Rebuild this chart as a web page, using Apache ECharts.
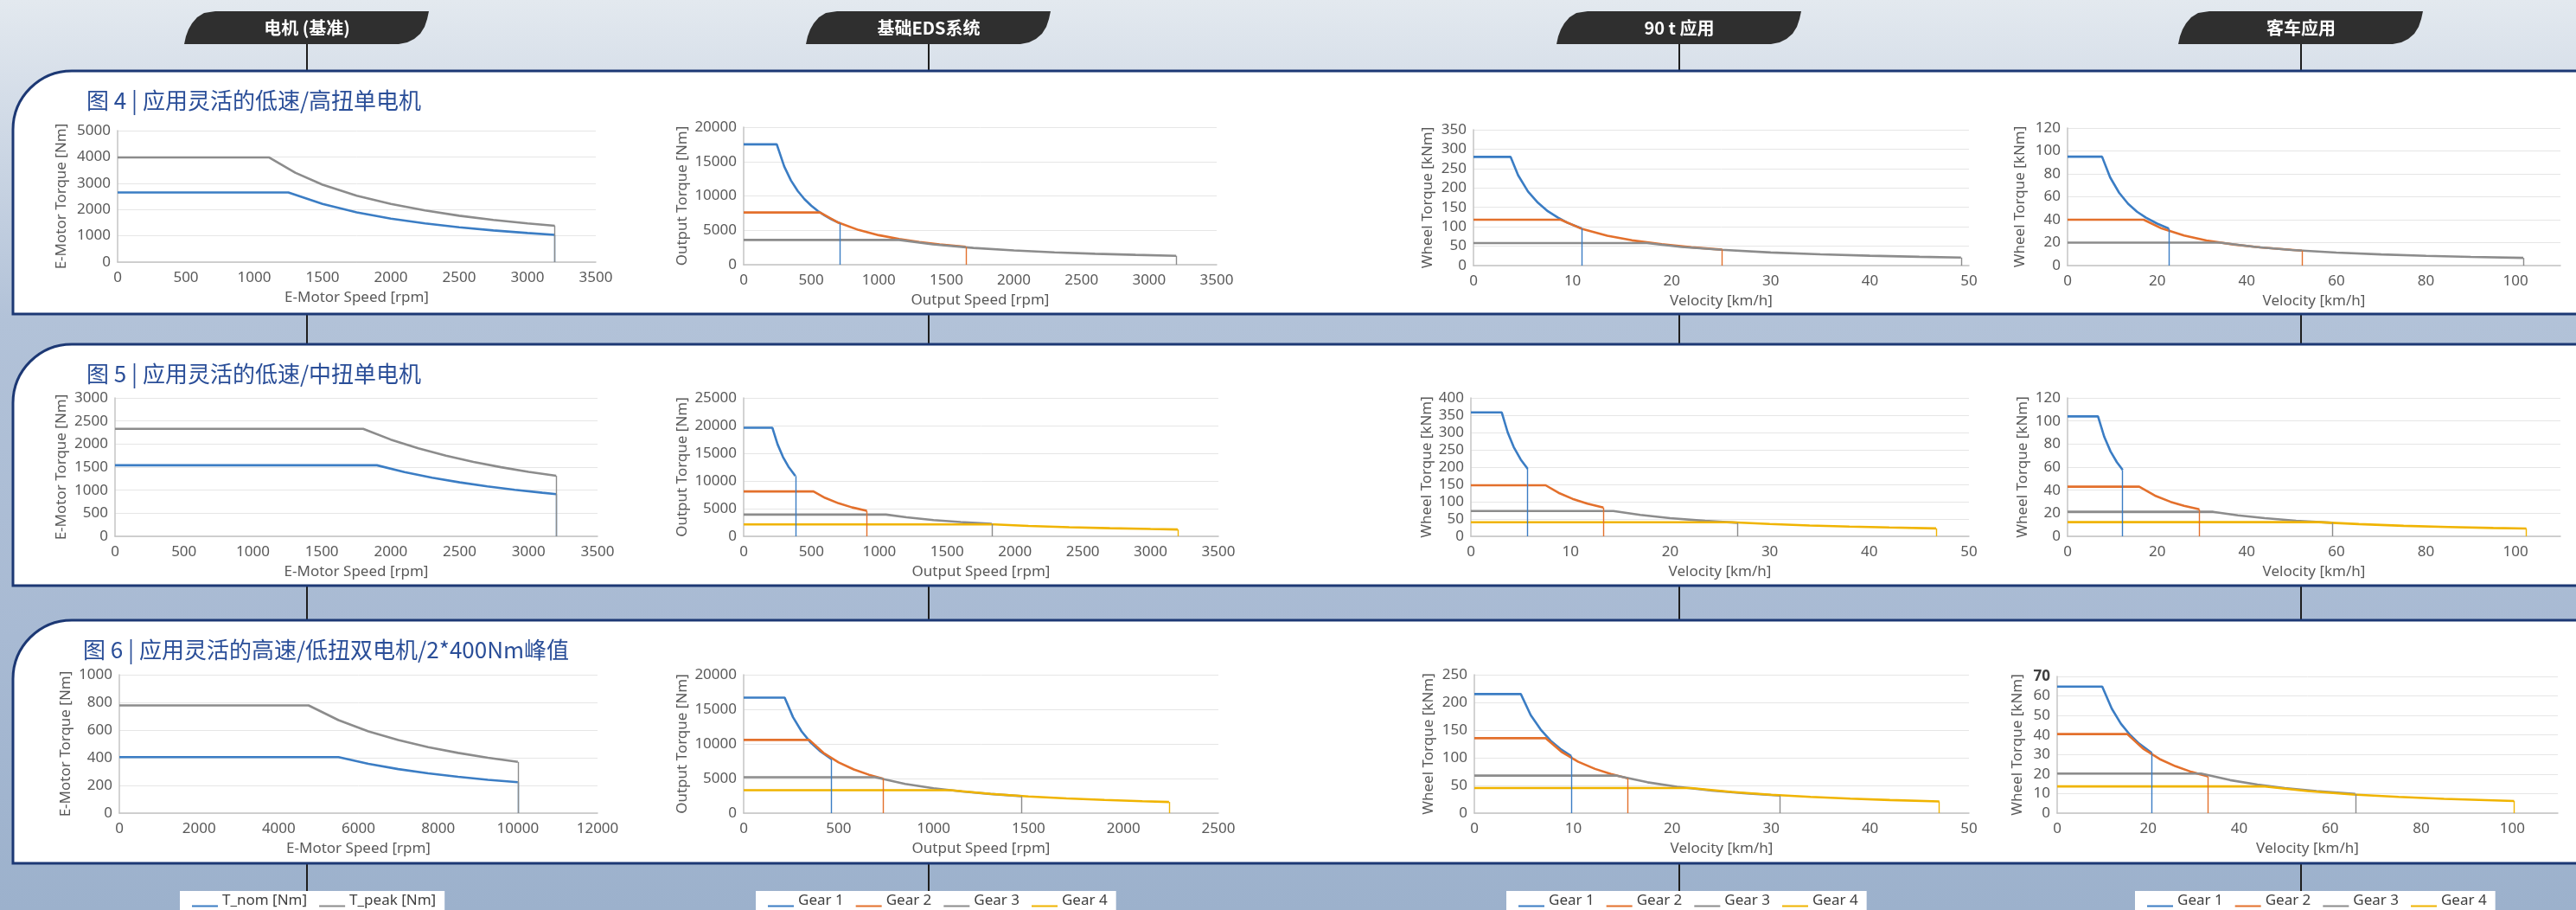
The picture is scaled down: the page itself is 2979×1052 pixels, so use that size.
<!DOCTYPE html>
<html>
<head>
<meta charset="utf-8">
<title>EDS torque curves</title>
<script src="https://cdn.jsdelivr.net/npm/echarts@6/dist/echarts.min.js"></script>
<style>
  html, body { margin: 0; padding: 0; background: #dfe6ee; }
  #main { width: 2979px; height: 1052px; }
</style>
</head>
<body>
<div id="main"></div>
<script>
// ---- data: [speed, torque] points ----
// row 1 (图 4)
var r1MotorNom  = [[0,2650],[1250,2650],[1500,2210],[1750,1890],[2000,1655],[2250,1470],[2500,1325],[2750,1205],[3000,1105],[3200,1035]];
var r1MotorPeak = [[0,3980],[1110,3980],[1300,3400],[1500,2945],[1750,2525],[2000,2210],[2250,1965],[2500,1765],[2750,1605],[3000,1470],[3200,1380]];
var r1OutG1 = [[0,17500],[245,17500],[300,14300],[350,12250],[400,10720],[450,9530],[500,8580],[550,7800],[600,7150],[650,6600],[712,6020]];
var r1OutG2 = [[0,7600],[565,7600],[700,6130],[850,5050],[1000,4290],[1150,3730],[1300,3300],[1450,2960],[1643,2610]];
var r1OutG3 = [[0,3600],[1150,3600],[1400,2960],[1700,2435],[2000,2070],[2300,1800],[2600,1590],[2900,1430],[3200,1295]];
var r1T90G1 = [[0,280],[3.75,280],[4.5,233],[5.5,191],[6.5,162],[7.5,140],[8.5,124],[9.5,110],[10.9,96]];
var r1T90G2 = [[0,118],[8.8,118],[11,94],[13.5,77],[16,65],[19,55],[22,47],[25.1,41]];
var r1T90G3 = [[0,58],[17.5,58],[21,48],[25,40.6],[30,33.8],[35,29],[40,25.4],[45,22.6],[49.2,20.6]];
var r1BusG1 = [[0,95],[7.7,95],[9.5,77],[11.5,63.6],[13.5,54],[15.5,47],[17.5,41.8],[20,36.6],[22.6,32.3]];
var r1BusG2 = [[0,40],[17,40],[21,32.4],[26,26.2],[31,21.9],[37,18.4],[43,15.8],[52.3,13]];
var r1BusG3 = [[0,20],[34,20],[42,16.2],[50,13.6],[60,11.3],[70,9.7],[80,8.5],[90,7.6],[101.7,6.7]];
// row 2 (图 5)
var r2MotorNom  = [[0,1540],[1900,1540],[2100,1393],[2300,1272],[2500,1170],[2700,1084],[2900,1009],[3100,944],[3200,914]];
var r2MotorPeak = [[0,2330],[1800,2330],[2000,2097],[2200,1906],[2400,1748],[2600,1613],[2800,1498],[3000,1398],[3200,1311]];
var r2OutG1 = [[0,19600],[212,19600],[250,16620],[290,14330],[330,12590],[381,10900]];
var r2OutG2 = [[0,8100],[515,8100],[600,6950],[700,5960],[800,5215],[908,4595]];
var r2OutG3 = [[0,3920],[1050,3920],[1200,3430],[1400,2940],[1600,2572],[1829,2250]];
var r2OutG4 = [[0,2140],[1850,2140],[2100,1885],[2400,1650],[2700,1467],[3000,1320],[3200,1237]];
var r2T90G1 = [[0,358],[3.1,358],[3.7,300],[4.3,258],[5,222],[5.7,195]];
var r2T90G2 = [[0,147.5],[7.5,147.5],[8.8,125.7],[10.2,108.4],[11.7,94.5],[13.3,83.2]];
var r2T90G3 = [[0,73.3],[14.3,73.3],[17,61.7],[20,52.4],[23.5,44.6],[26.8,39.1]];
var r2T90G4 = [[0,40.8],[26.2,40.8],[30,35.6],[34,31.4],[38,28.1],[42,25.5],[46.7,22.9]];
var r2BusG1 = [[0,104],[6.8,104],[8.2,86.2],[9.6,73.6],[11,64.3],[12.3,57.5]];
var r2BusG2 = [[0,43],[16,43],[19.5,35.3],[23,29.9],[26,26.5],[29.4,23.4]];
var r2BusG3 = [[0,21.25],[32.5,21.25],[38,18.2],[44,15.7],[51,13.5],[59.1,11.7]];
var r2BusG4 = [[0,12.25],[56,12.25],[65,10.6],[75,9.1],[85,8.1],[95,7.2],[102.4,6.7]];
// row 3 (图 6)
var r3MotorNom  = [[0,405],[5500,405],[6250,356],[7000,318],[7750,287],[8500,262],[9250,241],[10000,223]];
var r3MotorPeak = [[0,778],[4750,778],[5500,672],[6250,591],[7000,528],[7750,477],[8500,435],[9250,400],[10000,370]];
var r3OutG1 = [[0,16680],[216,16680],[260,13860],[305,11810],[350,10290],[400,9010],[463,7780]];
var r3OutG2 = [[0,10580],[346,10580],[420,8715],[500,7320],[580,6310],[660,5545],[735,4980]];
var r3OutG3 = [[0,5190],[692,5190],[850,4225],[1000,3590],[1150,3122],[1300,2762],[1462,2456]];
var r3OutG4 = [[0,3320],[1090,3320],[1300,2784],[1500,2413],[1700,2129],[1900,1905],[2100,1723],[2240,1615]];
var r3T90G1 = [[0,215],[4.7,215],[5.7,177],[6.7,151],[7.7,131],[8.7,116],[9.8,103]];
var r3T90G2 = [[0,135.4],[7.2,135.4],[8.8,110.8],[10.5,92.8],[12.2,79.9],[13.8,70.6],[15.5,62.9]];
var r3T90G3 = [[0,67.7],[14.4,67.7],[17.5,55.7],[20.5,47.6],[24,40.6],[27.5,35.5],[30.9,31.6]];
var r3T90G4 = [[0,45.3],[21.9,45.3],[26,38.2],[30,33.1],[34,29.2],[38,26.1],[42,23.6],[47,21.1]];
var r3BusG1 = [[0,64.8],[9.9,64.8],[12,53.5],[14,45.8],[16,40.1],[18,35.6],[20.8,30.8]];
var r3BusG2 = [[0,40.5],[15.4,40.5],[19,32.8],[22.5,27.7],[26,24],[29.5,21.1],[33.1,18.8]];
var r3BusG3 = [[0,20.3],[31.6,20.3],[38,16.9],[44,14.6],[50,12.8],[57,11.3],[65.5,9.8]];
var r3BusG4 = [[0,13.7],[45.2,13.7],[55,11.3],[65,9.5],[75,8.3],[85,7.3],[100.4,6.2]];

// ---- axes / labels ----
var xAxisMax  = [3500, 3500, 50, 110, 3500, 3500, 50, 110, 12000, 2500, 50, 110];
var xAxisStep = [500, 500, 10, 20, 500, 500, 10, 20, 2000, 500, 10, 20];
var yAxisMax  = [5000, 20000, 350, 120, 3000, 25000, 400, 120, 1000, 20000, 250, 70];
var yAxisStep = [1000, 5000, 50, 20, 500, 5000, 50, 20, 200, 5000, 50, 10];
var xNames = ['E-Motor Speed [rpm]', 'Output Speed [rpm]', 'Velocity [km/h]', 'Velocity [km/h]'];
var yNames = ['E-Motor Torque [Nm]', 'Output Torque [Nm]', 'Wheel Torque [kNm]', 'Wheel Torque [kNm]'];
var rowTitles = ['图 4 | 应用灵活的低速/高扭单电机', '图 5 | 应用灵活的低速/中扭单电机', '图 6 | 应用灵活的高速/低扭双电机/2*400Nm峰值'];
var tabTitles = ['电机 (基准)', '基础EDS系统', '90 t 应用', '客车应用'];
var motorNames = ['T_nom [Nm]', 'T_peak [Nm]'];
var gearNames = ['Gear 1', 'Gear 2', 'Gear 3', 'Gear 4'];

var chartSeries = [
  [r1MotorNom, r1MotorPeak], [r1OutG1, r1OutG2, r1OutG3], [r1T90G1, r1T90G2, r1T90G3], [r1BusG1, r1BusG2, r1BusG3],
  [r2MotorNom, r2MotorPeak], [r2OutG1, r2OutG2, r2OutG3, r2OutG4], [r2T90G1, r2T90G2, r2T90G3, r2T90G4], [r2BusG1, r2BusG2, r2BusG3, r2BusG4],
  [r3MotorNom, r3MotorPeak], [r3OutG1, r3OutG2, r3OutG3, r3OutG4], [r3T90G1, r3T90G2, r3T90G3, r3T90G4], [r3BusG1, r3BusG2, r3BusG3, r3BusG4]
];

// layout
var gridBoxes = [
  [136,151,553,152], [860,147,547,159], [1704,150,573,157], [2391,148,570,159],
  [133,460,558,160], [860,460,549,160], [1701,460,576,160], [2391,460,570,160],
  [138,780,553,160], [860,780,549,160], [1705,780,572,160], [2379,782,579,158]
];
var yNameGap = [56, 62, 44, 46, 53, 62, 42, 43, 53, 62, 44, 37];
var panelTops = [82, 398, 717];
var panelBottoms = [363, 677, 998];
var titleX = [100, 100, 96];
var tabCenters = [355, 1074, 1942, 2661];
var legendLefts = [208, 874, 1742, 2469];
// outline of a header tab, relative to its top-left corner
var tabOutline = [[0,38],[2,29],[5,21],[9,14],[15,7],[23,2],[36,0],[283,0],[281,9],[278,18],[273,26],[266,32],[258,36],[248,38]];
// legend key: a short line sitting low, like the source's underline keys
var legendIcon = 'path://M0,0L0.05,0L0.05,0.05Z M0,12L30,12L30,14L0,14Z';

var colorOf = {
  'T_nom [Nm]': '#3b7dc4', 'T_peak [Nm]': '#8c8c8c',
  'Gear 1': '#3b7dc4', 'Gear 2': '#e3702c', 'Gear 3': '#8c8c8c', 'Gear 4': '#f0b400'
};
var LATIN = '"Noto Sans", sans-serif';
var CJK = '"Noto Sans CJK SC", "Noto Sans", sans-serif';

// ---- decoration (background, panels, tabs) ----
var deco = [];
deco.push({
  type: 'rect', z: -20, shape: { x: 0, y: 0, width: 2979, height: 1052 },
  style: { fill: new echarts.graphic.LinearGradient(0, 0, 0, 1, [
    { offset: 0, color: '#e3e9ef' }, { offset: 0.08, color: '#d8e0ea' },
    { offset: 0.35, color: '#b2c2d8' }, { offset: 0.7, color: '#a8bad3' }, { offset: 1, color: '#9cb1cc' }
  ]) }
});
tabCenters.forEach(function (cx) {
  deco.push({ type: 'line', z: -19, shape: { x1: cx, y1: 50, x2: cx, y2: 1032 },
    style: { stroke: '#1e1e1e', lineWidth: 2 } });
});
panelTops.forEach(function (top, i) {
  deco.push({
    type: 'rect', z: -18,
    shape: { x: 15, y: top, width: 3000, height: panelBottoms[i] - top, r: [68, 0, 0, 0] },
    style: { fill: '#ffffff', stroke: '#1c3874', lineWidth: 3 }
  });
  deco.push({
    type: 'text', z: -17, x: titleX[i], y: top + 34,
    style: { text: rowTitles[i], font: 'normal 26px ' + CJK, fill: '#2a4e98', verticalAlign: 'middle' }
  });
});
tabCenters.forEach(function (cx, i) {
  var x0 = cx - 142;
  deco.push({
    type: 'polygon', z: -16,
    shape: { points: tabOutline.map(function (p) { return [x0 + p[0], 13 + p[1]]; }) },
    style: { fill: '#2f2f2f' }
  });
  deco.push({
    type: 'text', z: -15, x: cx, y: 32,
    style: { text: tabTitles[i], font: 'bold 20px ' + CJK, fill: '#ffffff', align: 'center', verticalAlign: 'middle' }
  });
});

// plain numbers on the axes (no thousands separator)
function plain(v) { return String(v); }

// ---- grids, axes, series ----
var grids = [], xAxes = [], yAxes = [], series = [];
gridBoxes.forEach(function (b, i) {
  var col = i % 4;
  grids.push({ left: b[0], top: b[1], width: b[2], height: b[3] });
  xAxes.push({
    gridIndex: i, type: 'value', min: 0, max: xAxisMax[i], interval: xAxisStep[i],
    name: xNames[col], nameLocation: 'middle', nameGap: 33,
    nameTextStyle: { fontSize: 17, color: '#595959', fontFamily: LATIN },
    axisLine: { show: true, lineStyle: { color: '#c4c4c4', width: 1.5 } },
    axisTick: { show: false },
    axisLabel: { margin: 10, fontSize: 17, color: '#595959', fontFamily: LATIN, formatter: plain, showMaxLabel: col !== 3 },
    splitLine: { show: false }
  });
  var yLab = { margin: 8, fontSize: 17, color: '#595959', fontFamily: LATIN, formatter: plain };
  if (i === 11) {
    // the "70" on the last chart is printed bold
    yLab.formatter = function (v) { return v === 70 ? '{b|70}' : String(v); };
    yLab.rich = { b: { fontWeight: 'bold', fontSize: 17, color: '#404040', fontFamily: LATIN } };
  }
  yAxes.push({
    gridIndex: i, type: 'value', min: 0, max: yAxisMax[i], interval: yAxisStep[i],
    name: yNames[col], nameLocation: 'middle', nameRotate: 90, nameGap: yNameGap[i],
    nameTextStyle: { fontSize: 17, color: '#595959', fontFamily: LATIN },
    axisLine: { show: true, lineStyle: { color: '#c4c4c4', width: 1.5 } },
    axisTick: { show: false },
    axisLabel: yLab,
    splitLine: { show: true, lineStyle: { color: '#e6e6e6', width: 1 } }
  });
  chartSeries[i].forEach(function (data, k) {
    var name = col === 0 ? motorNames[k] : gearNames[k];
    var last = data[data.length - 1];
    series.push({
      name: name, type: 'line', xAxisIndex: i, yAxisIndex: i,
      data: data, showSymbol: false, symbol: 'none',
      lineStyle: { color: colorOf[name], width: 2.6 },
      itemStyle: { color: colorOf[name] },
      markLine: {
        silent: true, symbol: 'none', label: { show: false },
        lineStyle: { color: colorOf[name], width: 1.4, type: 'solid' },
        data: [[{ coord: [last[0], last[1]] }, { coord: [last[0], 0] }]]
      }
    });
  });
});

var legends = legendLefts.map(function (left, i) {
  return {
    left: left, top: 1030, orient: 'horizontal', selectedMode: false,
    backgroundColor: '#ffffff', padding: [3, 10, 8, 14],
    icon: legendIcon, itemWidth: 30, itemHeight: 14, itemGap: 14,
    data: i === 0 ? motorNames : gearNames,
    textStyle: { fontSize: 17, color: '#404040', fontFamily: LATIN }
  };
});

var chart = echarts.init(document.getElementById('main'));
chart.setOption({
  animation: false,
  graphic: { elements: deco },
  grid: grids,
  xAxis: xAxes,
  yAxis: yAxes,
  legend: legends,
  series: series
});
</script>
</body>
</html>
